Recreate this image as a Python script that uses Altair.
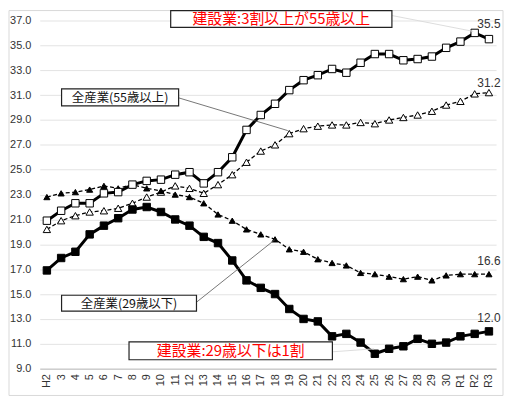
import altair as alt
import pandas as pd

cats = ["H2"] + [str(i) for i in range(3, 31)] + ["R1", "R2", "R3"]

c55 = [20.9, 21.7, 22.3, 22.3, 23.1, 23.2, 23.8, 24.1, 24.2, 24.6, 24.8, 23.9, 24.8, 26.0, 28.2,
       29.4, 30.3, 31.4, 32.2, 32.6, 33.1, 32.8, 33.6, 34.3, 34.3, 33.8, 33.9, 34.1, 34.8,
       35.3, 36.0, 35.5]
a55 = [20.2, 20.9, 21.3, 21.6, 21.7, 21.9, 22.3, 22.8, 23.2, 23.7, 23.5, 23.1, 23.8, 24.6, 25.6,
       26.5, 27.0, 27.9, 28.3, 28.5, 28.6, 28.6, 28.8, 28.7, 29.0, 29.2, 29.4, 29.7, 30.2,
       30.5, 31.1, 31.2]
a29 = [22.8, 23.1, 23.2, 23.4, 23.7, 23.5, 23.8, 23.5, 23.3, 23.0, 22.8, 22.3, 21.4, 20.9, 20.2,
       19.8, 19.4, 18.6, 18.4, 17.8, 17.5, 17.3, 16.7, 16.6, 16.4, 16.2, 16.4, 16.1, 16.5,
       16.6, 16.6, 16.6]
c29 = [16.9, 17.9, 18.4, 19.8, 20.5, 21.1, 21.8, 22.0, 21.6, 21.0, 20.5, 19.6, 19.1, 17.7, 16.1,
       15.5, 15.0, 13.8, 13.0, 12.8, 11.6, 11.8, 11.1, 10.2, 10.6, 10.8, 11.4, 11.0, 11.1,
       11.6, 11.8, 12.0]

y_ticks = [9.0 + 2 * i for i in range(15)]

JP = "Noto Sans CJK JP"
NUM = "Liberation Sans"

XE = alt.X("cat:O", sort=cats,
           scale=alt.Scale(type="point", padding=0.5),
           axis=alt.Axis(title=None, labelAngle=270, labelFont=NUM, labelFontSize=11,
                         labelColor="#333333", ticks=False, domainColor="#bfbfbf",
                         labelPadding=5, grid=False, labelOverlap=False))
YE = alt.Y("v:Q", scale=alt.Scale(domain=[9, 37], nice=False, zero=False),
           axis=alt.Axis(title=None, values=y_ticks, format=".1f", labelFont=NUM,
                         labelFontSize=11, labelColor="#333333", ticks=False, domain=False,
                         gridColor="#e3e3e3", labelPadding=9, labelOverlap=False,
                         labelFlush=False))


def series(vals):
    return pd.DataFrame({"cat": cats, "v": vals})


layers = []

frame = alt.Chart(pd.DataFrame({"a": [0]})).mark_rect(
    fillOpacity=0, stroke="#d9d9d9", strokeWidth=1
).encode(x=alt.value(-31), x2=alt.value(467), y=alt.value(-10), y2=alt.value(378))
layers.append(frame)


def line_layer(vals, width, dash=None):
    kw = dict(color="black", strokeWidth=width)
    if dash:
        kw["strokeDash"] = dash
    return alt.Chart(series(vals)).mark_line(**kw).encode(x=XE, y=YE)


def pt_layer(vals, shape, size, filled):
    return alt.Chart(series(vals)).mark_point(
        shape=shape, size=size, filled=True,
        fill="black" if filled else "white", stroke="black", strokeWidth=1, opacity=1
    ).encode(x=XE, y=YE)


layers += [
    line_layer(a55, 1.3, [4, 2.5]),
    line_layer(a29, 1.3, [4, 2.5]),
    line_layer(c55, 3),
    line_layer(c29, 3),
    pt_layer(a55, "triangle-up", 55, False),
    pt_layer(a29, "triangle-up", 38, True),
    pt_layer(c55, "square", 56, False),
    pt_layer(c29, "square", 56, True),
]

# end labels
end_df = pd.DataFrame({"cat": ["R3"] * 4, "v": [c55[-1], a55[-1], a29[-1], c29[-1]],
                       "t": ["35.5", "31.2", "16.6", "12.0"], "dy": [-15, -10, -13, -13]})
for i in range(4):
    row = end_df.iloc[[i]]
    layers.append(alt.Chart(row).mark_text(
        font=NUM, fontSize=12, color="#333333", dy=float(row["dy"].iloc[0])
    ).encode(x=XE, y=YE, text="t:N"))

# connectors
def rule(x1, y1, x2, y2, color, w):
    return alt.Chart(pd.DataFrame({"a": [0]})).mark_rule(color=color, strokeWidth=w).encode(
        x=alt.value(x1), y=alt.value(y1), x2=alt.value(x2), y2=alt.value(y2))


layers += [
    rule(140, 78, 250, 111, "#555555", 0.8),
    rule(158, 284, 237, 221, "#555555", 0.8),
    rule(355, -5, 437, 11, "#dddddd", 1),
    rule(295, 334, 337, 331, "#dddddd", 1),
]


def box(x1, y1, x2, y2, text, color, size):
    b = alt.Chart(pd.DataFrame({"a": [0]})).mark_rect(
        fill="white", stroke="#222222", strokeWidth=1.2
    ).encode(x=alt.value(x1), x2=alt.value(x2), y=alt.value(y1), y2=alt.value(y2))
    t = alt.Chart(pd.DataFrame({"t": [text]})).mark_text(
        font=JP, fontSize=size, color=color, align="center", baseline="middle"
    ).encode(x=alt.value((x1 + x2) / 2), y=alt.value((y1 + y2) / 2 + 0.5), text="t:N")
    return [b, t]


layers += box(132, -10, 355, 7, "建設業:3割以上が55歳以上", "#ff0000", 15)
layers += box(90, 324, 295, 342, "建設業:29歳以下は1割", "#ff0000", 15)
layers += box(22, 69, 140, 86, "全産業(55歳以上)", "#111111", 12.5)
layers += box(22, 277, 158, 293, "全産業(29歳以下)", "#111111", 12.5)

chart = alt.layer(*layers).properties(
    width=460, height=351,
    autosize=alt.AutoSizeParams(type="none"),
    padding={"left": 32, "top": 11, "right": 9, "bottom": 30},
    background="white",
).configure_view(stroke=None).configure_axis(labelOverlap=False)

chart.save("out.html", embed_options={"renderer": "svg", "actions": False})
